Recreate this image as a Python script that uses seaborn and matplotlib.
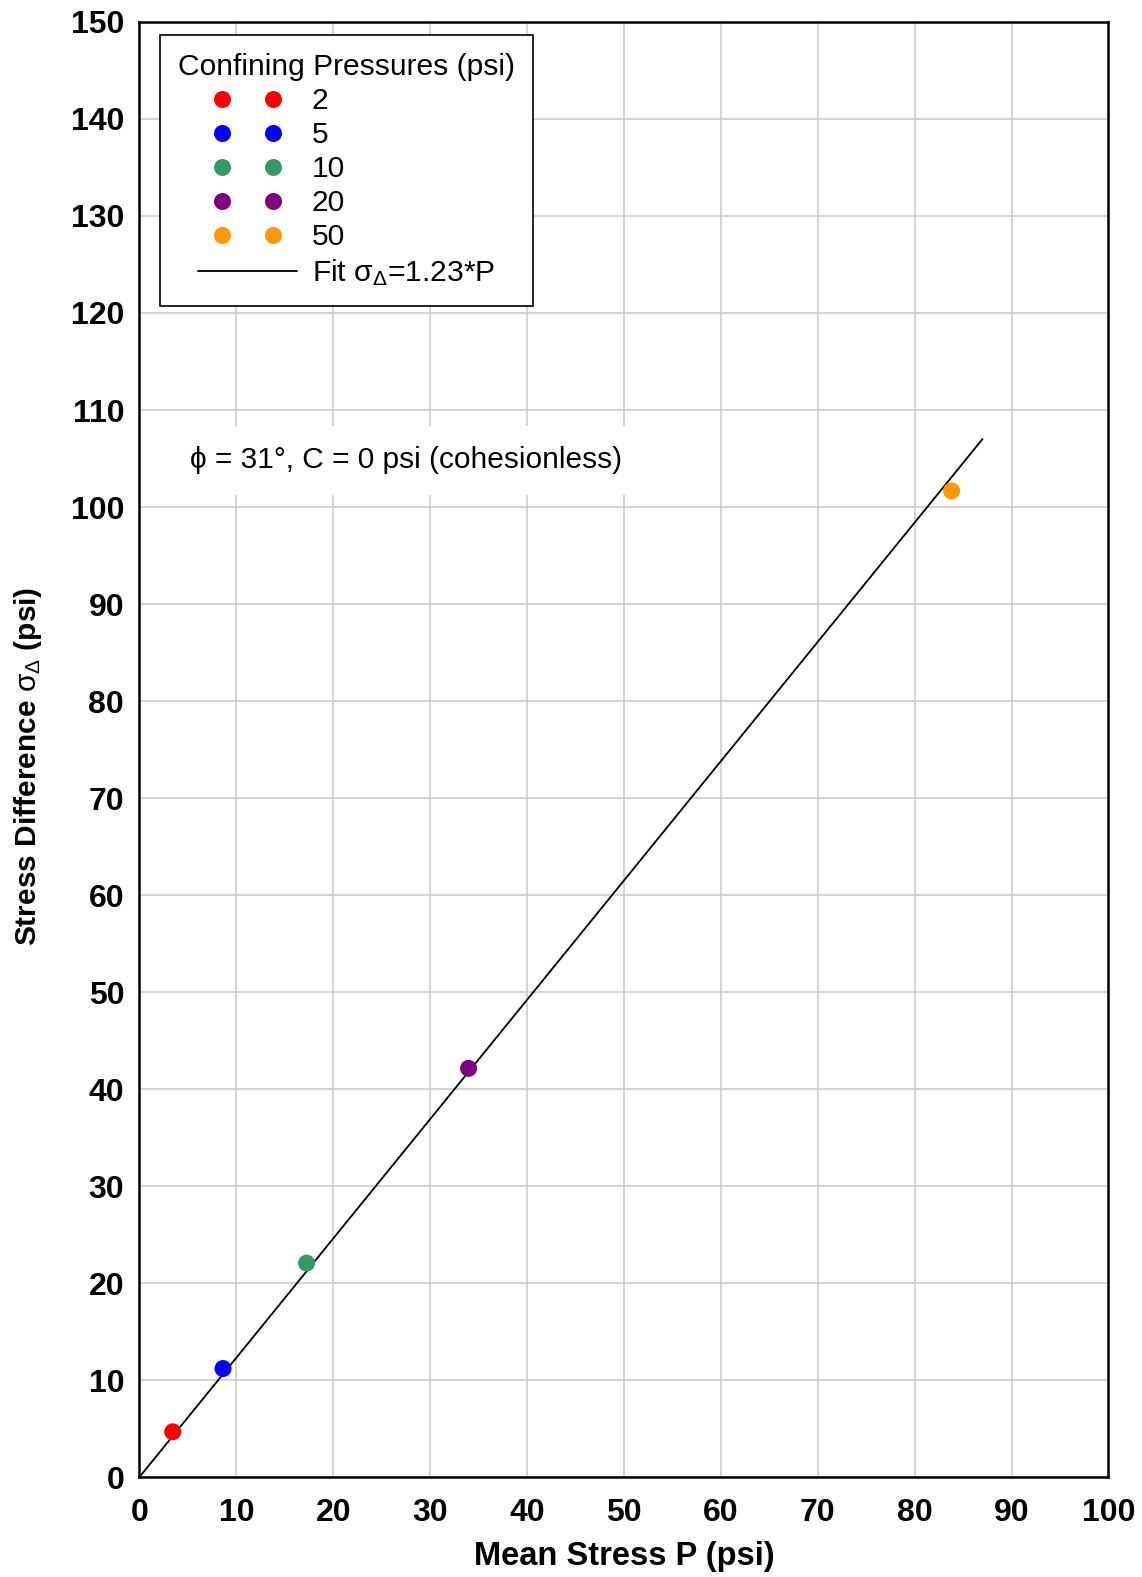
import numpy as np
import pandas as pd
import matplotlib
matplotlib.use("Agg")
import matplotlib.pyplot as plt
import seaborn as sns
from matplotlib.legend_handler import HandlerLine2D

# Triaxial results: one failure point per confining pressure
confining = ["2", "5", "10", "20", "50"]
mean_stress = [3.43, 8.62, 17.24, 33.96, 83.8]
stress_diff = [4.66, 11.18, 22.05, 42.13, 101.66]
point_colors = ["#FF0000", "#0000FF", "#339966", "#800080", "#FF9900"]

# Linear failure envelope through the origin
fit_slope = 1.23
fit_x = np.array([0.0, 87.0])
fit_label = "Fit $\\mathrm{\\sigma_\\Delta}$=1.23*P"

x_ticks = list(range(0, 101, 10))
y_ticks = list(range(0, 151, 10))

sns.set_theme(style="whitegrid")
plt.rcParams["font.family"] = ["Liberation Sans", "DejaVu Sans"]
plt.rcParams["mathtext.fontset"] = "custom"
plt.rcParams["mathtext.rm"] = "Liberation Sans"
plt.rcParams["mathtext.it"] = "Liberation Sans:italic"
plt.rcParams["mathtext.bf"] = "Liberation Sans:bold"
for key in ("text.color", "axes.labelcolor", "xtick.color", "ytick.color"):
    plt.rcParams[key] = "black"

fig = plt.figure(figsize=(11.42, 15.77), dpi=100)
fig.patch.set_facecolor("white")
ax = fig.add_axes([0.12215, 0.06341, 0.8485, 0.92264])
ax.set_facecolor("white")

points = pd.DataFrame({"P": mean_stress, "S": stress_diff, "Confining": confining})
sns.scatterplot(data=points, x="P", y="S", hue="Confining", hue_order=confining,
                palette=dict(zip(confining, point_colors)), s=150, linewidth=0,
                ax=ax, zorder=4)

fit = pd.DataFrame({"P": fit_x, "S": fit_slope * fit_x})
sns.lineplot(data=fit, x="P", y="S", color="black", linewidth=1.3, ax=ax,
             label=fit_label, zorder=3)

ax.set_xlim(0, 100)
ax.set_ylim(0, 150)
ax.set_xticks(x_ticks)
ax.set_yticks(y_ticks)
ax.grid(True, color="#C8C8C8", linewidth=1.1)
ax.set_axisbelow(True)
ax.tick_params(axis="both", length=0, labelsize=23, colors="black")
ax.tick_params(axis="x", pad=15)
ax.tick_params(axis="y", pad=11)
for lab in ax.get_xticklabels() + ax.get_yticklabels():
    lab.set_fontweight("bold")
for sp in ax.spines.values():
    sp.set_visible(True)
    sp.set_color("black")
    sp.set_linewidth(1.8)

ax.set_xlabel("Mean Stress P (psi)", fontsize=23.5, fontweight="bold")
ax.xaxis.set_label_coords(0.5, -0.044)
ax.set_ylabel("Stress Difference $\\mathrm{\\sigma_\\Delta}$ (psi)", fontsize=21.5,
              fontweight="bold")
ax.yaxis.set_label_coords(-0.0986, 0.4887)

ax.text(5.2, 104.8, "ϕ = 31°, C = 0 psi (cohesionless)", fontsize=21.5,
        ha="left", va="center", zorder=2,
        bbox=dict(boxstyle="square,pad=0.7", fc="white", ec="none"))

handles, labels = ax.get_legend_handles_labels()
keep = [(h, l) for h, l in zip(handles, labels) if l in confining or l == fit_label]
handles = [h for h, _ in keep]
labels = [l for _, l in keep]
hmap = {}
for h, l in keep:
    if l == fit_label:
        hmap[h] = HandlerLine2D(numpoints=2, marker_pad=0.0)
    else:
        hmap[h] = HandlerLine2D(numpoints=2, marker_pad=0.8)

leg = ax.legend(handles, labels, title="Confining Pressures (psi)",
                loc="upper left", bbox_to_anchor=(0.021, 0.991), borderaxespad=0,
                fontsize=21.6, title_fontsize=21.6, handlelength=3.3,
                handletextpad=0.5, labelspacing=0.2, borderpad=0.6,
                frameon=True, fancybox=False, framealpha=1, edgecolor="black",
                handler_map=hmap)
leg.get_frame().set_linewidth(1.2)
leg.set_zorder(5)

fig.savefig("out.png", dpi=100, facecolor="white")
